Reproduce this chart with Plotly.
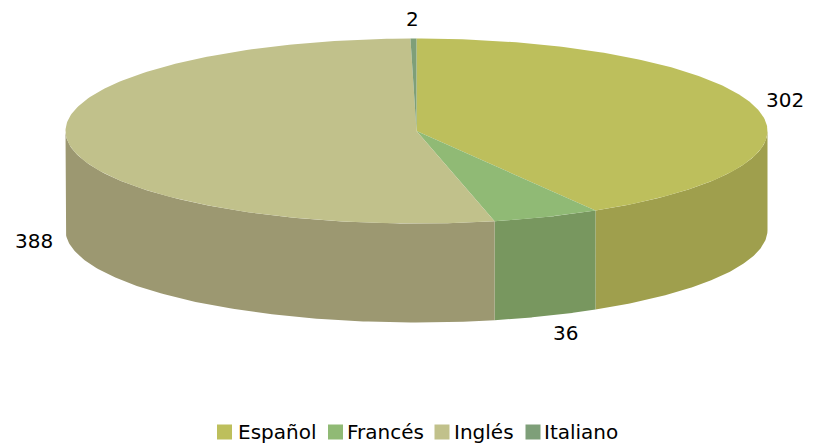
import numpy as np
import plotly.graph_objects as go

categories = ["Español", "Francés", "Inglés", "Italiano"]
values = [302, 36, 388, 2]
top_colors = ["#BDBF5C", "#90BA75", "#C1C18B", "#7E9F79"]
side_colors = ["#9F9F4D", "#78975F", "#9C9871", "#66805F"]
label_pos = [(785, 100), (565, 333), (34, 241), (412, 19)]
legend_x = [224.5, 335.5, 442, 533]
legend_text_x = [236, 345, 452, 542]
LEGEND_Y = 432
FONT_SIZE = 20

CX, CY, RX, RY, DEPTH = 416.5, 131, 351, 92.5, 99

total = sum(values)
edges = 2 * np.pi * np.cumsum([0] + values) / total


def ell(a):
    return CX + RX * np.sin(a), CY - RY * np.cos(a)


fig = go.Figure()

# sides (only the front half, pi/2 .. 3pi/2)
for i, c in enumerate(categories):
    a0, a1 = max(edges[i], np.pi / 2), min(edges[i + 1], 3 * np.pi / 2)
    if a1 <= a0:
        continue
    t = np.linspace(a0, a1, 120)
    x, y = ell(t)
    fig.add_trace(go.Scatter(
        x=np.r_[x, x[::-1]], y=np.r_[y, y[::-1] + DEPTH],
        mode="lines", fill="toself", fillcolor=side_colors[i],
        line=dict(width=0), hoverinfo="skip", showlegend=False))

# tops
for i, c in enumerate(categories):
    t = np.linspace(edges[i], edges[i + 1], 200)
    x, y = ell(t)
    fig.add_trace(go.Scatter(
        x=np.r_[CX, x, CX], y=np.r_[CY, y, CY],
        mode="lines", fill="toself", fillcolor=top_colors[i],
        line=dict(width=0), name=c, showlegend=False, hoverinfo="skip"))

# legend row
for i, c in enumerate(categories):
    fig.add_trace(go.Scatter(
        x=[legend_x[i]], y=[LEGEND_Y], mode="markers", name=c,
        marker=dict(symbol="square", size=15, color=top_colors[i]),
        showlegend=False, hoverinfo="name", cliponaxis=False))
    fig.add_annotation(x=legend_text_x[i], y=LEGEND_Y, text=c, showarrow=False,
                       xanchor="left", yanchor="middle",
                       font=dict(family="DejaVu Sans", size=FONT_SIZE, color="#000"))

for v, (lx, ly) in zip(values, label_pos):
    fig.add_annotation(x=lx, y=ly, text=str(v), showarrow=False,
                       font=dict(family="DejaVu Sans", size=FONT_SIZE, color="#000"))

fig.update_layout(
    width=814, height=444, margin=dict(l=0, r=0, t=0, b=0),
    paper_bgcolor="white", plot_bgcolor="white",
    xaxis=dict(range=[0, 814], visible=False, fixedrange=True),
    yaxis=dict(range=[444, 0], visible=False, fixedrange=True),
    font=dict(family="DejaVu Sans", size=FONT_SIZE, color="#000"),
    showlegend=False,
)
fig.write_html("out.html", config={"displayModeBar": False},
               post_script="document.body.style.margin='0';")
